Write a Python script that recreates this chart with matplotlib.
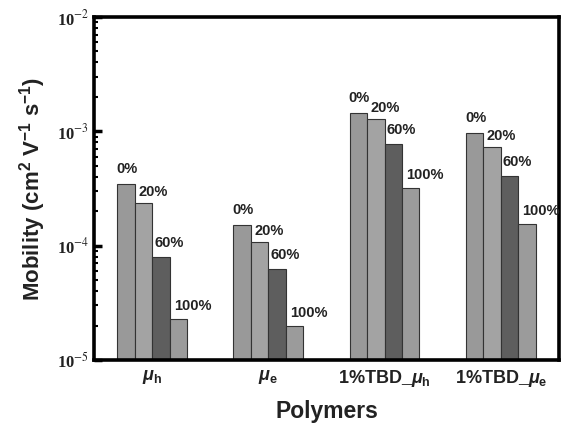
import matplotlib
matplotlib.use("Agg")
import matplotlib.pyplot as plt
import numpy as np

# ==========================================
# DATA
# ==========================================

groups = [r"$\mu_\mathrm{h}$", r"$\mu_\mathrm{e}$",
          r"1%TBD_$\mu_\mathrm{h}$", r"1%TBD_$\mu_\mathrm{e}$"]
levels = ["0%", "20%", "60%", "100%"]

mob_0 = [3.44e-4, 1.50e-4, 1.44e-3, 9.6e-4]
mob_20 = [2.35e-4, 1.08e-4, 1.27e-3, 7.3e-4]
mob_60 = [8.0e-5, 6.3e-5, 7.8e-4, 4.1e-4]
mob_100 = [2.3e-5, 2.0e-5, 3.2e-4, 1.56e-4]

series = [mob_0, mob_20, mob_60, mob_100]
colors = ["#999999", "#a3a3a3", "#5e5e5e", "#9b9b9b"]

# label offsets (points) relative to bar top-left corner
label_dx = [-0.7, 2.5, 1.5, 3.0]
label_dy = [6, 3, 5, 4]

# ==========================================
# FIGURE
# ==========================================

plt.rcParams["mathtext.fontset"] = "custom"
plt.rcParams["mathtext.rm"] = "Liberation Sans:bold"
plt.rcParams["mathtext.it"] = "Liberation Sans:italic:bold"

fig = plt.figure(figsize=(5.68, 4.23), dpi=100)
ax = fig.add_axes([0.1655, 0.149, 0.8185, 0.811])

x = np.arange(len(groups))
width = 0.15
offsets = np.array([-1.5, -0.5, 0.5, 1.5]) * width

for vals, off, col, lab, dx, dy in zip(series, offsets, colors, levels,
                                       label_dx, label_dy):
    ax.bar(x + off, vals, width, color=col,
           edgecolor="#333333", linewidth=0.8)
    for xi, v in zip(x, vals):
        ax.annotate(lab, (xi + off - width / 2, v), xytext=(dx, dy),
                    textcoords="offset points",
                    ha="left", va="bottom", fontsize=10.5,
                    family="Liberation Sans", fontweight="bold",
                    color="#222222")

ax.set_yscale("log")
ax.set_ylim(1e-5, 1e-2)
ax.set_xlim(-0.5, 3.5)

# ==========================================
# AXES STYLE
# ==========================================

for sp in ax.spines.values():
    sp.set_linewidth(2.6)

ax.set_yticks([1e-5, 1e-4, 1e-3, 1e-2])
ax.set_yticklabels([r"10$^{-5}$", r"10$^{-4}$", r"10$^{-3}$", r"10$^{-2}$"],
                   family="Liberation Serif", fontweight="bold", fontsize=12,
                   color="#222222")
for t in ax.get_yticklabels():
    t.set_math_fontfamily("stix")

ax.tick_params(axis="y", which="major", direction="in", length=6, width=2.5)
ax.tick_params(axis="y", which="minor", direction="in", length=3, width=1.5)
ax.tick_params(axis="x", which="both", length=0, pad=6)

ax.set_xticks(x)
ax.set_xticklabels(groups, family="Liberation Sans", fontweight="bold",
                   fontsize=13, color="#222222")

ax.set_xlabel("Polymers", family="Liberation Sans", fontweight="bold",
              fontsize=16.5, color="#222222", labelpad=8)
ax.set_ylabel(r"Mobility (cm$^2$ V$^{-1}$ s$^{-1}$)", family="Liberation Sans",
              fontweight="bold", fontsize=16, color="#222222", labelpad=6)

fig.savefig("out.png", dpi=100)
